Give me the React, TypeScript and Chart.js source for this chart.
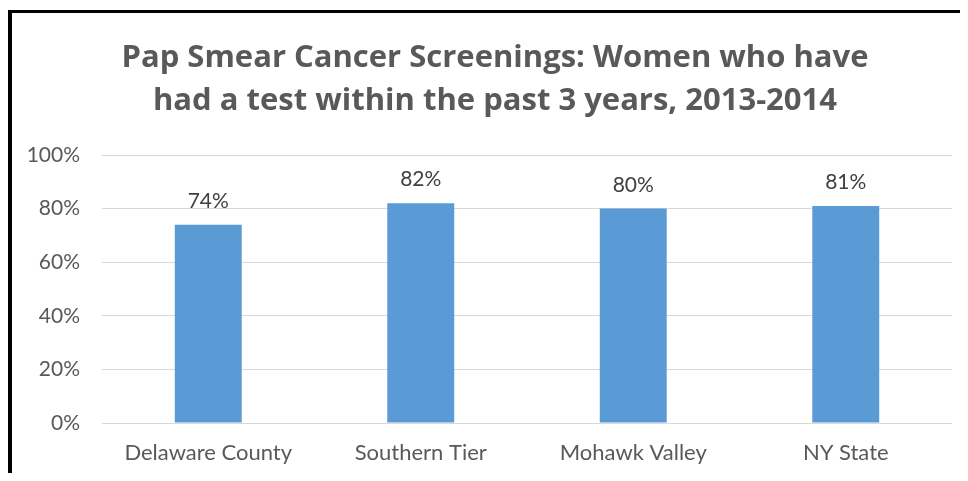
import React, { useEffect, useRef } from "react";
import { Chart, registerables } from "chart.js";

Chart.register(...registerables);

const categories = ["Delaware County", "Southern Tier", "Mohawk Valley", "NY State"];
const values = [74, 82, 80, 81];
const titleLines = [
  "Pap Smear Cancer Screenings: Women who have",
  "had a test within the past 3 years, 2013-2014",
];
const yTicks = [0, 20, 40, 60, 80, 100];

const FONT = "Lato, 'Open Sans', sans-serif";
const TITLE_FONT = "'Open Sans', Lato, sans-serif";

const valueLabels = {
  id: "valueLabels",
  afterDatasetsDraw(chart: any) {
    const ctx = chart.ctx;
    const meta = chart.getDatasetMeta(0);
    ctx.save();
    ctx.font = `21px ${FONT}`;
    ctx.fillStyle = "#404040";
    ctx.textAlign = "center";
    ctx.textBaseline = "alphabetic";
    meta.data.forEach((bar: any, i: number) => {
      ctx.fillText(values[i] + "%", bar.x, bar.y - 17);
    });
    ctx.restore();
  },
};

// Excel centres the title slightly right of the canvas centre
const titleShift = {
  id: "titleShift",
  afterLayout(chart: any) {
    const t = chart.titleBlock;
    if (t) {
      t.left += 13;
      t.right += 13;
    }
  },
};

export default function App() {
  const ref = useRef<HTMLCanvasElement>(null);
  useEffect(() => {
    if (!ref.current) return;
    const chart = new Chart(ref.current, {
      type: "bar",
      data: {
        labels: categories,
        datasets: [
          {
            data: values,
            backgroundColor: "#5B9BD5",
            borderWidth: 0,
            categoryPercentage: 1,
            barPercentage: 0.315,
          },
        ],
      },
      options: {
        animation: false,
        responsive: false,
        maintainAspectRatio: false,
        layout: { padding: { left: 0, right: 8, top: 0, bottom: 0 } },
        plugins: {
          legend: { display: false },
          tooltip: { enabled: false },
          title: {
            display: true,
            text: titleLines,
            color: "#595959",
            font: { family: TITLE_FONT, size: 31, weight: "bold", lineHeight: 43 / 31 },
            padding: { top: 24, bottom: 32 },
          },
        },
        scales: {
          x: {
            afterFit: (s: any) => {
              s.height = 50;
            },
            grid: { display: false, drawTicks: false },
            border: { display: false },
            ticks: {
              color: "#595959",
              font: { family: FONT, size: 22, lineHeight: 1.2 },
              padding: 17,
              maxRotation: 0,
            },
          },
          y: {
            min: 0,
            max: 100,
            afterFit: (s: any) => {
              s.width = 90;
            },
            afterBuildTicks: (s: any) => {
              s.ticks = yTicks.map((v) => ({ value: v }));
            },
            grid: { color: "#D9D9D9", lineWidth: 1, drawTicks: false },
            border: { display: false },
            ticks: {
              color: "#595959",
              font: { family: FONT, size: 21 },
              padding: 22,
              callback: (v: any) => v + "%",
            },
          },
        },
      },
      plugins: [valueLabels, titleShift],
    });
    return () => chart.destroy();
  }, []);
  return (
    <div
      style={{
        marginTop: 2,
        borderLeft: "4px solid #000",
        borderTop: "3px solid #000",
        width: 948,
        height: 460,
        background: "#fff",
      }}
    >
      <canvas ref={ref} width={948} height={460} style={{ display: "block" }} />
    </div>
  );
}
